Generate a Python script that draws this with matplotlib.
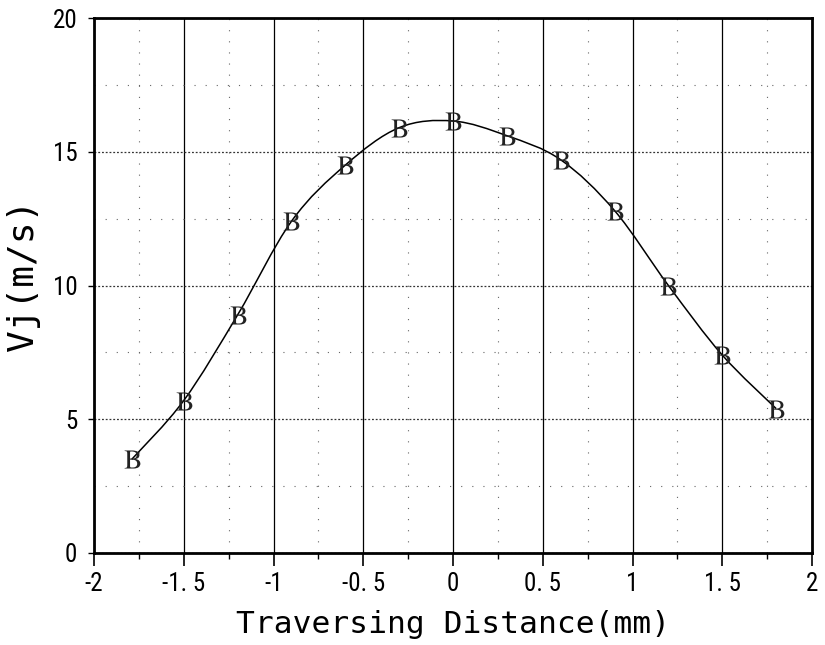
import matplotlib
matplotlib.use("Agg")
import matplotlib.pyplot as plt
from matplotlib import font_manager
from matplotlib.path import Path
from matplotlib.patches import PathPatch
import numpy as np

# Data
x_vals = [-1.79, -1.5, -1.2, -0.9, -0.6, -0.3, 0.0, 0.3, 0.6, 0.9, 1.2, 1.5, 1.8]
vj_vals = [3.5, 5.7, 8.9, 12.4, 14.5, 15.9, 16.15, 15.6, 14.7, 12.8, 10.0, 7.4, 5.4]

x_ticks = [-2, -1.5, -1, -0.5, 0, 0.5, 1, 1.5, 2]
x_tick_labels = ["-2", "-1. 5", "-1", "-0. 5", "0", "0. 5", "1", "1. 5", "2"]
y_ticks = [0, 5, 10, 15, 20]
y_tick_labels = ["0", "5", "10", "15", "20"]

plt.rcParams["mathtext.fontset"] = "stix"

names = {f.name for f in font_manager.fontManager.ttflist}
cond = None
for cand in ["Liberation Sans Narrow", "DejaVu Sans Condensed", "Roboto Condensed",
             "Open Sans Condensed"]:
    if cand in names:
        cond = cand
        break
mono = ["DejaVu Sans Mono"]

fig = plt.figure(figsize=(8.25, 6.45), dpi=100)
ax = fig.add_axes([94/825, 1-553/645, 718/825, (553-18)/645])

# smooth curve through the points (Catmull-Rom as cubic Bezier path)
px = np.array(x_vals)
py = np.array(vj_vals)
verts = [(px[0], py[0])]
codes = [Path.MOVETO]
n = len(px)
for i in range(n - 1):
    p0 = np.array([px[max(i-1, 0)], py[max(i-1, 0)]])
    p1 = np.array([px[i], py[i]])
    p2 = np.array([px[i+1], py[i+1]])
    p3 = np.array([px[min(i+2, n-1)], py[min(i+2, n-1)]])
    c1 = p1 + (p2 - p0) / 6.0
    c2 = p2 - (p3 - p1) / 6.0
    verts += [tuple(c1), tuple(c2), tuple(p2)]
    codes += [Path.CURVE4, Path.CURVE4, Path.CURVE4]
ax.add_patch(PathPatch(Path(verts, codes), facecolor="none", edgecolor="black",
                       lw=1.1, zorder=3))

ax.plot(x_vals, vj_vals, linestyle="none", marker="$\\mathrm{B}$", markersize=13,
        markeredgewidth=0, color="#222222", zorder=4)

ax.set_xlim(-2, 2)
ax.set_ylim(0, 20)
ax.set_xticks(x_ticks)
ax.set_xticklabels(x_tick_labels)
ax.set_yticks(y_ticks)
ax.set_yticklabels(y_tick_labels)
ax.set_xticks(np.arange(-1.75, 2, 0.5), minor=True)
ax.set_yticks([2.5, 7.5, 12.5, 17.5], minor=True)

ax.grid(True, which="major", axis="x", color="black", lw=0.9, linestyle="-")
ax.grid(True, which="major", axis="y", color="#333333", lw=0.9, linestyle=(0, (1.5, 1.5)))
ax.grid(True, which="minor", color="#666666", lw=0.8, linestyle=(0, (1, 9)))

for s in ax.spines.values():
    s.set_linewidth(2.0)
    s.set_color("black")

if cond:
    tick_family = [cond, "DejaVu Sans"]
    tick_size = 18
else:
    tick_family = mono
    tick_size = 14.5

ax.tick_params(axis="x", which="major", direction="out", length=9, width=1.2,
               labelsize=tick_size, pad=5)
ax.tick_params(axis="x", which="minor", direction="out", length=4, width=1)
ax.tick_params(axis="y", which="major", direction="out", length=4, width=1,
               labelsize=tick_size, pad=8)
ax.tick_params(axis="y", which="minor", length=0)
for lab in ax.get_xticklabels() + ax.get_yticklabels():
    lab.set_family(tick_family)

ax.set_xlabel("Traversing Distance(mm)", family=mono, fontsize=22.5)
ax.xaxis.set_label_coords(0.5, -(633-553)/535)
ax.xaxis.label.set_va("baseline")
ax.set_ylabel("Vj(m/s)", family=mono, fontsize=26)
ax.yaxis.set_label_coords(-(94-40)/718, (553-275)/535)

fig.savefig("out.png", dpi=100)
